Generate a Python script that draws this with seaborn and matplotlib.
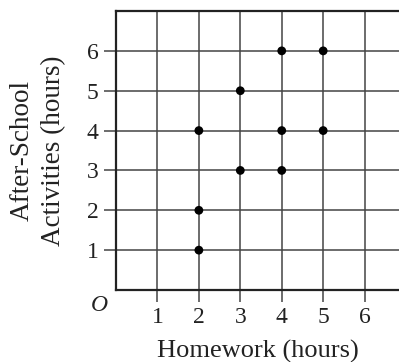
import pandas as pd
import seaborn as sns
import matplotlib.pyplot as plt

# data
homework = [2, 2, 2, 3, 3, 4, 4, 4, 5, 5]
activities = [1, 2, 4, 3, 5, 3, 4, 6, 4, 6]
ticks = [1, 2, 3, 4, 5, 6]

df = pd.DataFrame({'homework': homework, 'activities': activities})

sns.set_theme(style='white')
plt.rcParams['font.family'] = ['Liberation Serif', 'DejaVu Serif']

fig = plt.figure(figsize=(3.99, 3.62), dpi=100)
ax = fig.add_axes([0.2907, 0.1989, 0.7093, 0.7707])

sns.scatterplot(data=df, x='homework', y='activities', ax=ax,
                color='black', s=40, edgecolor='none', zorder=3)

ax.set_xlim(0, 6.83)
ax.set_ylim(0, 7)
ax.set_xticks(ticks)
ax.set_yticks(ticks)
ax.set_xticklabels([str(t) for t in ticks], fontsize=17, color='#222222')
ax.set_yticklabels([str(t) for t in ticks], fontsize=17, color='#222222')
ax.grid(True, color='#444444', linewidth=1.1)
ax.tick_params(axis='both', direction='out', length=8.5, width=1.1,
               color='#444444', pad=4, bottom=True, left=True)

for side in ['left', 'bottom', 'top']:
    ax.spines[side].set_visible(True)
    ax.spines[side].set_color('#222222')
    ax.spines[side].set_linewidth(1.6)
ax.spines['right'].set_visible(False)

ax.set_xlabel('Homework (hours)', fontsize=19, color='#222222', labelpad=8)
ax.set_ylabel('After-School\nActivities (hours)', fontsize=19.5, color='#222222',
              labelpad=15, linespacing=1.35)
ax.text(-0.4, -0.38, 'O', fontsize=17, style='italic', color='#222222',
        ha='center', va='center', clip_on=False)

fig.savefig('out.png', dpi=100)
